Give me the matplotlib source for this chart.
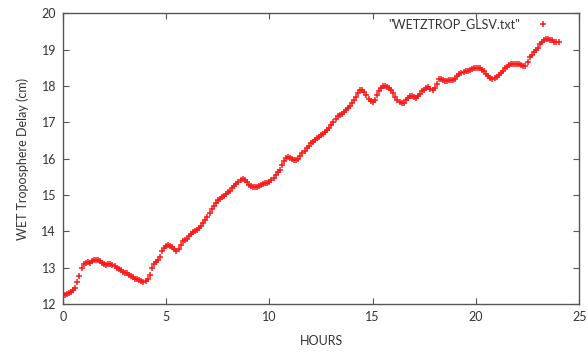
import matplotlib
matplotlib.use("Agg")
import matplotlib.pyplot as plt
import numpy as np

# wet tropospheric delay (cm), station GLSV, sampled every 6 minutes
hours = np.round(np.arange(0, 24.05, 0.1), 1)
wet_delay = [
    12.27, 12.26, 12.28, 12.30, 12.33, 12.38, 12.45, 12.60, 12.78, 12.98,  # 0
    13.10, 13.14, 13.15, 13.14, 13.17, 13.20, 13.22, 13.20, 13.17, 13.12,  # 1
    13.10, 13.07, 13.09, 13.10, 13.07, 13.04, 13.00, 12.96, 12.93, 12.88,  # 2
    12.86, 12.84, 12.80, 12.78, 12.74, 12.70, 12.68, 12.65, 12.63, 12.61,  # 3
    12.62, 12.68, 12.80, 12.98, 13.10, 13.15, 13.22, 13.30, 13.45, 13.55,  # 4
    13.60, 13.62, 13.60, 13.57, 13.52, 13.47, 13.50, 13.62, 13.72, 13.76,  # 5
    13.80, 13.86, 13.92, 13.97, 14.00, 14.03, 14.08, 14.15, 14.22, 14.30,  # 6
    14.40, 14.50, 14.60, 14.70, 14.78, 14.85, 14.90, 14.94, 14.98, 15.03,  # 7
    15.08, 15.12, 15.18, 15.25, 15.30, 15.35, 15.40, 15.44, 15.42, 15.35,  # 8
    15.28, 15.25, 15.23, 15.21, 15.22, 15.25, 15.28, 15.30, 15.32, 15.33,  # 9
    15.35, 15.40, 15.48, 15.55, 15.62, 15.70, 15.82, 15.94, 16.02, 16.04,  # 10
    16.02, 15.99, 15.97, 15.95, 15.98, 16.06, 16.15, 16.22, 16.28, 16.35,  # 11
    16.42, 16.47, 16.52, 16.56, 16.60, 16.64, 16.68, 16.72, 16.78, 16.85,  # 12
    16.92, 17.02, 17.10, 17.16, 17.20, 17.24, 17.28, 17.33, 17.38, 17.45,  # 13
    17.52, 17.61, 17.70, 17.80, 17.88, 17.90, 17.82, 17.74, 17.65, 17.58,  # 14
    17.56, 17.62, 17.75, 17.86, 17.95, 17.99, 18.00, 17.98, 17.95, 17.88,  # 15
    17.80, 17.70, 17.62, 17.56, 17.52, 17.53, 17.60, 17.67, 17.72, 17.72,  # 16
    17.70, 17.68, 17.72, 17.78, 17.85, 17.90, 17.95, 17.96, 17.92, 17.90,  # 17
    17.95, 18.06, 18.18, 18.18, 18.15, 18.13, 18.14, 18.15, 18.16, 18.17,  # 18
    18.20, 18.26, 18.32, 18.35, 18.38, 18.40, 18.42, 18.44, 18.46, 18.48,  # 19
    18.50, 18.50, 18.48, 18.45, 18.40, 18.34, 18.28, 18.23, 18.20, 18.21,  # 20
    18.25, 18.30, 18.36, 18.42, 18.48, 18.53, 18.58, 18.60, 18.60, 18.61,  # 21
    18.60, 18.59, 18.58, 18.55, 18.56, 18.66, 18.80, 18.86, 18.92, 18.98,  # 22
    19.05, 19.14, 19.22, 19.27, 19.30, 19.29, 19.27, 19.25, 19.22, 19.21,  # 23
    19.20,
]

x_ticks = [0, 5, 10, 15, 20, 25]
y_ticks = [12, 13, 14, 15, 16, 17, 18, 19, 20]

FONT = "Lato"
TXT = "#333333"
RED = "#ff1a1a"

fig = plt.figure(figsize=(5.88, 3.56), dpi=100)
ax = fig.add_axes([0.107, 0.146, 0.878, 0.817])

ax.plot(hours, wet_delay, linestyle="none", marker="+", color=RED,
        markersize=4.5, markeredgewidth=1.1)

ax.set_xlim(0, 25)
ax.set_ylim(12, 20)
ax.set_xticks(x_ticks)
ax.set_yticks(y_ticks)
ax.tick_params(direction="in", top=True, right=True, length=4, width=0.8,
               colors="#555555", labelcolor=TXT, labelsize=9, pad=5)
for lbl in ax.get_xticklabels() + ax.get_yticklabels():
    lbl.set_fontfamily(FONT)
for sp in ax.spines.values():
    sp.set_color("#555555")
    sp.set_linewidth(1.0)

ax.set_xlabel("HOURS", fontsize=9, fontfamily=FONT, color=TXT, labelpad=9)
ax.set_ylabel("WET Troposphere Delay (cm)", fontsize=9, fontfamily=FONT,
              color=TXT, labelpad=9)

# gnuplot-style key in the upper right
ax.text(0.885, 0.963, '"WETZTROP_GLSV.txt"', transform=ax.transAxes,
        ha="right", va="center", fontsize=9, fontfamily=FONT, color=TXT)
ax.plot([0.93], [0.963], transform=ax.transAxes, marker="+", color=RED,
        markersize=4.5, markeredgewidth=1.1, linestyle="none")

fig.savefig("out.png", dpi=100, facecolor="white")
